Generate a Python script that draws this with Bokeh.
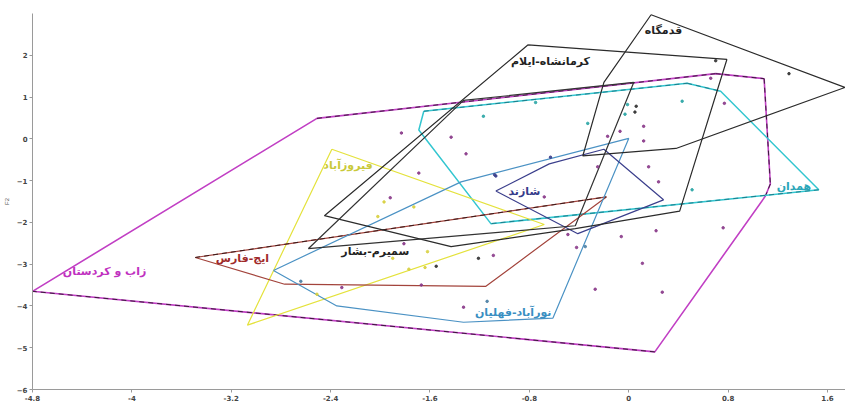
from bokeh.plotting import figure
from bokeh.embed import file_html
from bokeh.resources import INLINE
from bokeh.models import FixedTicker, Range1d
from bokeh.core.properties import value

# ---------------- data ----------------
groups = ["zab", "hamadan", "ghadamgah", "kermanshah", "semirom", "shazand", "nurabad", "firuzabad", "ij"]

labels = {
    "zab": "زاب و کردستان",
    "hamadan": "همدان",
    "ghadamgah": "قدمگاه",
    "kermanshah": "کرمانشاه-ایلام",
    "semirom": "سمیرم-بشار",
    "shazand": "شازند",
    "nurabad": "نورآباد-فهلیان",
    "firuzabad": "فیروزآباد",
    "ij": "ایج-فارس",
}

zab_x = [-4.80, -2.51, 0.70, 1.09, 1.14, 1.10, 0.21]
zab_y = [-3.65, 0.49, 1.56, 1.44, -1.08, -1.37, -5.10]

hamadan_x = [-1.65, 0.47, 0.74, 1.53, -1.11, -1.69]
hamadan_y = [0.66, 1.33, 1.14, -1.22, -2.03, 0.21]

ghadamgah_x = [0.18, 1.74, 0.38, -0.37, -0.20]
ghadamgah_y = [2.97, 1.23, -0.23, -0.41, 1.35]

kermanshah_x = [-0.81, 0.79, 0.41, -0.43, -1.43, -2.45]
kermanshah_y = [2.25, 1.90, -1.73, -2.15, -2.58, -1.84]

semirom_x = [-2.58, -1.33, 0.04, -0.43]
semirom_y = [-2.63, 0.92, 1.35, -2.08]

shazand_x = [-1.07, -0.64, -0.20, 0.28, -0.41]
shazand_y = [-1.25, -0.60, -0.25, -1.46, -2.27]

nurabad_x = [-2.86, -1.35, 0.00, -0.61, -1.33, -2.35]
nurabad_y = [-3.15, -1.03, 0.01, -4.29, -4.39, -4.00]

firuzabad_x = [-2.39, -0.68, -3.07]
firuzabad_y = [-0.25, -2.05, -4.46]

ij_x = [-3.49, -0.18, -1.15, -2.77]
ij_y = [-2.84, -1.39, -3.53, -3.48]

label_x = [-4.22, 1.33, 0.28, -0.63, -2.04, -0.84, -0.93, -2.26, -3.11]
label_y = [-3.17, -1.13, 2.59, 1.85, -2.70, -1.25, -4.15, -0.65, -2.86]

pts_x = [-1.83, -1.43, -1.31, -1.17, -1.69, -0.63, -0.75, -1.08, 1.29, 0.70,
         0.66, 0.43, 0.77, 0.06, 0.05, -0.03, -0.33, 0.12, -0.07, 0.12,
         -0.25, 0.16, 0.24, 0.51, -1.92, -1.97, -1.73, -2.02, -1.81, -1.90,
         -1.62, -1.77, -1.64, -1.55, -1.21, -1.09, -2.64, -2.31, -1.67, -1.33,
         -1.14, -0.49, -0.42, -0.35, -0.06, 0.22, 0.76, 0.11, -0.27, 0.27,
         -1.07, -0.68, -2.51, -0.01, -0.17]
pts_y = [0.14, 0.04, -0.36, 0.54, -0.82, -0.44, 0.87, -0.86, 1.56, 1.87,
         1.45, 0.90, 0.85, 0.78, 0.64, 0.59, 0.37, 0.30, 0.18, -0.05,
         -0.67, -0.67, -1.03, -1.22, -1.41, -1.51, -1.63, -1.86, -2.51, -2.86,
         -2.70, -3.12, -3.08, -3.05, -2.86, -2.79, -3.41, -3.56, -3.50, -4.03,
         -3.89, -2.29, -2.60, -2.58, -2.34, -2.20, -2.13, -2.98, -3.60, -3.67,
         -0.89, -1.39, -3.72, 0.82, 0.06]
pts_group = ["zab", "zab", "zab", "hamadan", "zab", "shazand", "hamadan", "shazand", "ghadamgah", "ghadamgah",
             "zab", "hamadan", "zab", "ghadamgah", "ghadamgah", "hamadan", "hamadan", "zab", "zab", "zab",
             "zab", "zab", "zab", "hamadan", "zab", "firuzabad", "firuzabad", "firuzabad", "zab", "firuzabad",
             "firuzabad", "firuzabad", "firuzabad", "semirom", "semirom", "zab", "nurabad", "zab", "zab", "zab",
             "nurabad", "zab", "zab", "nurabad", "zab", "zab", "zab", "zab", "zab", "zab",
             "shazand", "zab", "firuzabad", "hamadan", "zab"]

x_ticks = [-4.8, -4.0, -3.2, -2.4, -1.6, -0.8, 0.0, 0.8, 1.6]
x_tick_labels = ["-4.8", "-4", "-3.2", "-2.4", "-1.6", "-0.8", "0", "0.8", "1.6"]
y_ticks = [-6, -5, -4, -3, -2, -1, 0, 1, 2]

# ---------------- styles ----------------
poly = {
    "zab": (zab_x, zab_y), "hamadan": (hamadan_x, hamadan_y), "ghadamgah": (ghadamgah_x, ghadamgah_y),
    "kermanshah": (kermanshah_x, kermanshah_y), "semirom": (semirom_x, semirom_y),
    "shazand": (shazand_x, shazand_y), "nurabad": (nurabad_x, nurabad_y),
    "firuzabad": (firuzabad_x, firuzabad_y), "ij": (ij_x, ij_y),
}
line_color = {
    "zab": "#c13fc4", "hamadan": "#33c6d0", "ghadamgah": "#2b2b2b", "kermanshah": "#2b2b2b",
    "semirom": "#333333", "shazand": "#3b3f8c", "nurabad": "#4b92c4", "firuzabad": "#e4e23c",
    "ij": "#a3443c",
}
text_color = {
    "zab": "#c030c0", "hamadan": "#2aa6b8", "ghadamgah": "#222222", "kermanshah": "#222222",
    "semirom": "#222222", "shazand": "#343a8a", "nurabad": "#3a8fc2", "firuzabad": "#c9c93a",
    "ij": "#a02a2a",
}
pt_color = {
    "zab": "#8a3a8a", "hamadan": "#2aa5a5", "ghadamgah": "#333333", "kermanshah": "#333333",
    "semirom": "#333333", "shazand": "#3b3f8c", "nurabad": "#4b7fa4", "firuzabad": "#d8d040",
    "ij": "#a3443c",
}
line_width = {"zab": 1.6, "hamadan": 1.5}
dashed_edges = {"zab": [1, 2, 3, 4, 6], "hamadan": [0, 1, 3], "ij": [0]}
dash_color = {"zab": "#3a1a3a", "hamadan": "#1d7f8c", "ij": "#3a1a1a"}

p = figure(width=845, height=403, output_backend="svg", toolbar_location=None,
           x_range=Range1d(-4.8, 1.745), y_range=Range1d(-6, 3.0),
           min_border_left=30, min_border_right=0, min_border_top=13, min_border_bottom=11)
p.outline_line_color = None
p.grid.visible = False
p.background_fill_color = "white"
p.border_fill_color = "white"

draw_order = ["zab", "hamadan", "firuzabad", "ij", "nurabad", "shazand", "kermanshah", "semirom", "ghadamgah"]
for g in draw_order:
    xs, ys = poly[g]
    cx = list(xs) + [xs[0]]
    cy = list(ys) + [ys[0]]
    p.line(cx, cy, line_color=line_color[g], line_width=line_width.get(g, 1.2))
    if g in dashed_edges:
        sx = [[cx[i], cx[i + 1]] for i in dashed_edges[g]]
        sy = [[cy[i], cy[i + 1]] for i in dashed_edges[g]]
        p.multi_line(sx, sy, line_color=dash_color[g], line_width=1.0, line_dash="5 4")

p.scatter(pts_x, pts_y, size=2.5, color=[pt_color[g] for g in pts_group], alpha=0.9)

p.text(label_x, label_y, text=[labels[g] for g in groups],
       text_color=[text_color[g] for g in groups],
       text_font=value("DejaVu Sans"), text_font_style="bold", text_font_size="11px",
       text_align="center", text_baseline="middle")

for ax in (p.xaxis, p.yaxis):
    ax.axis_line_color = "#9a9a9a"
    ax.major_tick_line_color = "#9a9a9a"
    ax.minor_tick_line_color = None
    ax.major_tick_in = 0
    ax.major_tick_out = 3
    ax.major_label_standoff = 2
    ax.major_label_text_font_size = "7px"
    ax.major_label_text_font_style = "bold"
    ax.major_label_text_color = "#444444"
    ax.major_label_text_font = "DejaVu Sans"

p.xaxis.ticker = FixedTicker(ticks=x_ticks)
p.xaxis.major_label_overrides = {t: s for t, s in zip(x_ticks, x_tick_labels)}
p.yaxis.ticker = FixedTicker(ticks=y_ticks)
p.yaxis.axis_label = "F2"
p.yaxis.axis_label_text_font_size = "6px"
p.yaxis.axis_label_text_font_style = "normal"
p.yaxis.axis_label_text_color = "#555555"
p.yaxis.axis_label_standoff = 4

open("out.html", "w").write(file_html(p, INLINE))
